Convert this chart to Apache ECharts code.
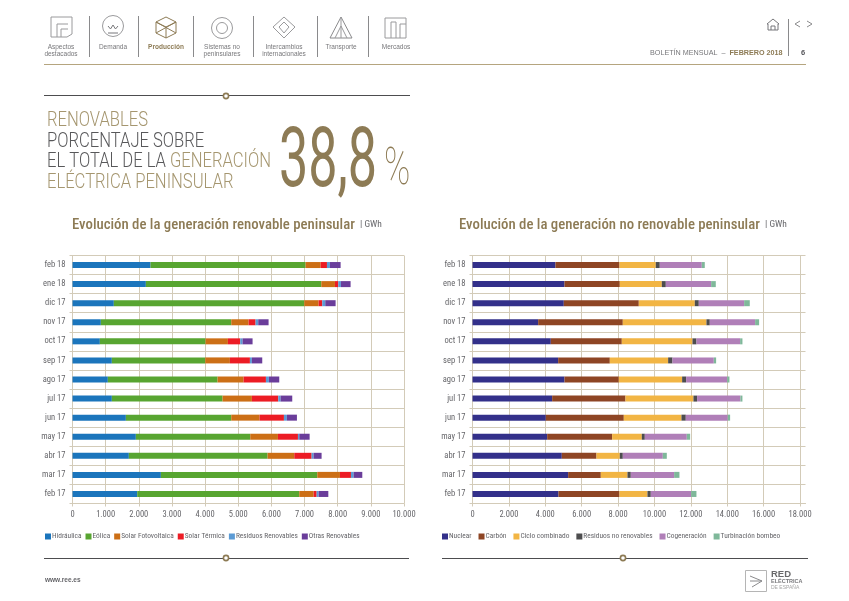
<!DOCTYPE html>
<html lang="es">
<head>
    <meta charset="UTF-8"/>
    <title>Boletin mensual</title>
    <script src="https://cdn.jsdelivr.net/npm/echarts@6/dist/echarts.min.js"></script>
    <style>
        html, body {margin: 0; padding: 0; background: #fff;}
    </style>
</head>
<body>
<div id="main" style="width: 849px;height: 601px;"></div>

<script type="text/javascript">
    var months = ['feb 18', 'ene 18', 'dic 17', 'nov 17', 'oct 17', 'sep 17', 'ago 17', 'jul 17', 'jun 17', 'may 17', 'abr 17', 'mar 17', 'feb 17'];

    // renovables, GWh
    var hidraulica = [2354, 2213, 1247, 855, 825, 1187, 1066, 1187, 1610, 1911, 1700, 2666, 1952];
    var eolica = [4678, 5292, 5744, 3934, 3189, 2817, 3310, 3340, 3179, 3451, 4185, 4718, 4889];
    var fotovoltaica = [453, 412, 433, 523, 674, 744, 785, 885, 855, 835, 805, 684, 433];
    var termica = [191, 100, 111, 211, 372, 604, 674, 795, 734, 604, 523, 332, 91];
    var residuosRen = [90, 80, 90, 80, 70, 60, 90, 70, 90, 40, 60, 80, 60];
    var otrasRen = [322, 292, 312, 312, 302, 312, 312, 352, 302, 312, 241, 262, 292];

    // no renovables, GWh
    var nuclear = [4560, 5055, 5018, 3608, 4304, 4707, 5055, 4377, 4029, 4103, 4908, 5256, 4725];
    var carbon = [3516, 3040, 4121, 4652, 3901, 2839, 2985, 4029, 4286, 3571, 1905, 1795, 3352];
    var ciclo = [1996, 2308, 3077, 4597, 3883, 3205, 3480, 3736, 3168, 1630, 1282, 1465, 1538];
    var residuosNoRen = [220, 220, 220, 183, 220, 238, 220, 201, 238, 165, 165, 183, 183];
    var cogeneracion = [2308, 2491, 2491, 2491, 2399, 2271, 2253, 2381, 2308, 2308, 2198, 2381, 2216];
    var turbinacion = [165, 256, 311, 220, 128, 128, 128, 110, 128, 183, 220, 293, 293];

    var ticksLeft = [0, 1000, 2000, 3000, 4000, 5000, 6000, 7000, 8000, 9000, 10000];
    var ticksRight = [0, 2000, 4000, 6000, 8000, 10000, 12000, 14000, 16000, 18000];

    var NARROW = '"Roboto Condensed", "Liberation Sans", sans-serif';
    var GOLD = '#8d7b55';
    var GRIDCOL = '#d3cbb8';
    var GREY = '#77777a';

    var leftSeries = [
        ['Hidráulica', hidraulica, '#1b75bc'],
        ['Eólica', eolica, '#58a531'],
        ['Solar Fotovoltaica', fotovoltaica, '#cc6f16'],
        ['Solar Térmica', termica, '#ec1c24'],
        ['Residuos Renovables', residuosRen, '#5b9bd5'],
        ['Otras Renovables', otrasRen, '#6a3d9a']
    ];
    var rightSeries = [
        ['Nuclear', nuclear, '#33308a'],
        ['Carbón', carbon, '#8e4524'],
        ['Ciclo combinado', ciclo, '#f2b544'],
        ['Residuos no renovables', residuosNoRen, '#4d4d4f'],
        ['Cogeneración', cogeneracion, '#b07fb8'],
        ['Turbinación bombeo', turbinacion, '#7fb89a']
    ];

    function fmt(v) {
        return String(v).replace(/\B(?=(\d{3})+$)/g, '.');
    }

    function makeSeries(list, idx, stack) {
        return list.map(function (s) {
            return {
                name: s[0], type: 'bar', stack: stack, barWidth: 6,
                xAxisIndex: idx, yAxisIndex: idx,
                data: s[1], itemStyle: {color: s[2]}
            };
        });
    }

    function xAxisFor(idx, max, ticks) {
        return {
            type: 'value', gridIndex: idx, min: 0, max: max, position: 'bottom',
            axisLine: {show: true, onZero: false, lineStyle: {color: GRIDCOL, width: 1}},
            axisTick: {show: true, length: 3, customValues: ticks, lineStyle: {color: GRIDCOL}},
            splitLine: {show: true, lineStyle: {color: GRIDCOL, width: 1}},
            axisLabel: {
                customValues: ticks, margin: 7, color: '#66666a', fontFamily: NARROW, fontSize: 8.5,
                formatter: fmt
            }
        };
    }

    function yAxisFor(idx) {
        return {
            type: 'category', gridIndex: idx, data: months, inverse: true,
            axisLine: {show: true, onZero: false, lineStyle: {color: GRIDCOL, width: 1}},
            axisTick: {show: true, length: 3, lineStyle: {color: GRIDCOL}},
            splitLine: {show: true, lineStyle: {color: GRIDCOL, width: 1}},
            axisLabel: {margin: 7, color: '#66666a', fontFamily: NARROW, fontSize: 8.5}
        };
    }

    function legendFor(list, x, gap) {
        return {
            left: x, top: 533, itemWidth: 6, itemHeight: 6, itemGap: gap, padding: 0,
            icon: 'rect', selectedMode: false,
            data: list.map(function (s) { return s[0]; }),
            textStyle: {color: '#66666a', fontFamily: NARROW, fontSize: 7.4, padding: [0, 0, 0, -4]}
        };
    }

    function titleFor(text, x) {
        return {
            text: '{a|' + text + '} {b|| GWh}', left: x, top: 216, padding: 0,
            textStyle: {
                fontWeight: 'normal',
                rich: {
                    a: {color: GOLD, fontFamily: NARROW, fontSize: 14.8, fontWeight: 500},
                    b: {color: '#66666a', fontFamily: NARROW, fontSize: 9.5, fontWeight: 'normal'}
                }
            }
        };
    }

    // elementos de la pagina, fuera del grafico
    var deco = [];

    function line(x1, y1, x2, y2, color, w) {
        deco.push({type: 'line', silent: true, shape: {x1: x1, y1: y1, x2: x2, y2: y2}, style: {stroke: color, lineWidth: w || 1}});
    }
    function label(x, y, text, size, color, opts) {
        opts = opts || {};
        deco.push({
            type: 'text', silent: true, x: x, y: y, scaleX: opts.scale || 1,
            style: {
                text: text, fill: color, fontFamily: opts.family || '"Liberation Sans", sans-serif',
                fontSize: size, fontWeight: opts.weight || 'normal', align: opts.align || 'left',
                verticalAlign: 'middle', lineHeight: opts.lh, rich: opts.rich
            }
        });
    }
    function ring(cx, cy, r, color, w, fill) {
        deco.push({type: 'circle', silent: true, shape: {cx: cx, cy: cy, r: r}, style: {stroke: color, lineWidth: w || 1, fill: fill || 'none'}});
    }
    function poly(points, color, closed) {
        deco.push({type: closed ? 'polygon' : 'polyline', silent: true, shape: {points: points}, style: {stroke: color, lineWidth: 1, fill: 'none'}});
    }

    var navItems = [
        [61, ['Aspectos', 'destacados']], [113, ['Demanda']], [166, ['Producción']],
        [222, ['Sistemas no', 'peninsulares']], [284, ['Intercambios', 'internacionales']],
        [341, ['Transporte']], [396, ['Mercados']]
    ];
    navItems.forEach(function (n) {
        var active = n[1][0] === 'Producción';
        n[1].forEach(function (t, i) {
            label(n[0], 47 + i * 7.5, t, 6.5, active ? GOLD : '#77777a', {align: 'center', weight: active ? 'bold' : 'normal'});
        });
    });
    [89.5, 138.5, 193.5, 253.5, 317.5, 368.5].forEach(function (x) {
        line(x, 16, x, 57, '#8a8a8c', 1);
    });

    // iconos del menu
    poly([[51, 17], [72, 17], [72, 34], [67, 37], [51, 37]], '#9a9a9c', true);
    poly([[57, 37], [57, 24], [68, 24]], '#9a9a9c');
    poly([[61, 37], [61, 29], [68, 29]], '#9a9a9c');
    ring(113, 26, 10.5, '#9a9a9c');
    poly([[108, 26], [110.5, 29], [113, 25], [115.5, 29], [118, 26]], '#77777a');
    line(108, 33, 118, 33, '#77777a', 1);
    poly([[166, 17], [176, 22], [176, 33], [166, 38], [156, 33], [156, 22]], GOLD, true);
    poly([[156, 22], [166, 27], [176, 22]], GOLD);
    poly([[156, 33], [176, 22]], GOLD);
    poly([[156, 22], [176, 33]], GOLD);
    line(166, 27, 166, 38, GOLD, 1);
    ring(222, 28, 10.5, '#9a9a9c');
    ring(222, 28, 5.5, '#9a9a9c');
    poly([[284, 17], [295, 27], [284, 38], [273, 27]], '#9a9a9c', true);
    poly([[284, 22], [289, 27], [284, 33], [279, 27]], '#9a9a9c', true);
    poly([[341, 17], [352, 38], [330, 38]], '#8a8a8c', true);
    poly([[341, 17], [341, 38]], '#9a9a9c');
    poly([[335, 38], [341, 26], [347, 38]], '#9a9a9c');
    poly([[385, 18], [406, 18], [406, 38], [385, 38]], '#9a9a9c', true);
    poly([[391, 38], [391, 22], [396, 22], [396, 38]], '#9a9a9c');
    poly([[400, 38], [400, 24], [406, 24]], '#9a9a9c');

    // cabecera derecha
    poly([[767, 24], [773, 19], [779, 24], [778, 24], [778, 30], [768, 30], [768, 24]], '#77777a', true);
    poly([[771, 30], [771, 26], [775, 26], [775, 30]], '#77777a');
    line(788.5, 19, 788.5, 56, '#8a8a8c', 1);
    poly([[800, 21], [795, 24], [800, 27]], '#8a8a8c');
    poly([[807, 21], [812, 24], [807, 27]], '#8a8a8c');
    label(650, 53, '{a|BOLETÍN MENSUAL  –  }{b|FEBRERO 2018}', 7.2, GREY, {
        rich: {
            a: {fontSize: 7.2, fill: GREY, fontFamily: '"Liberation Sans", sans-serif'},
            b: {fontSize: 7.2, fill: GOLD, fontWeight: 'bold', fontFamily: '"Liberation Sans", sans-serif'}
        }
    });
    label(801, 53, '6', 7.5, '#55555a', {weight: 'bold'});

    // reglas
    line(44, 64.5, 806, 64.5, '#b5a57f', 1);
    line(44, 95.5, 410, 95.5, '#4d4d4f', 1);
    ring(226, 96, 2.6, GOLD, 1.6, '#fff');
    line(44, 558.5, 409, 558.5, '#4d4d4f', 1);
    ring(226, 558, 2.6, GOLD, 1.6, '#fff');
    line(442, 558.5, 808, 558.5, '#4d4d4f', 1);
    ring(623, 558, 2.6, GOLD, 1.6, '#fff');

    // cifra destacada
    var headFamily = 'Roboto, sans-serif';
    function headLine(y, rich) {
        label(47, y, rich, 21, GOLD, {
            family: headFamily, weight: 300, scale: 0.79,
            rich: {
                g: {fontSize: 21, fontWeight: 300, fontFamily: headFamily, fill: '#a5966f'},
                d: {fontSize: 21, fontWeight: 300, fontFamily: headFamily, fill: '#58585a'}
            }
        });
    }
    headLine(121, '{g|RENOVABLES}');
    headLine(142, '{d|PORCENTAJE SOBRE}');
    headLine(162, '{d|EL TOTAL DE LA }{g|GENERACIÓN}');
    headLine(183, '{g|ELÉCTRICA PENINSULAR}');
    label(279, 165, '38,8', 84, GOLD, {family: headFamily, weight: 400, scale: 0.62});
    label(384, 171, '%', 52, GOLD, {family: headFamily, weight: 100, scale: 0.68});

    // pie
    label(45, 580, 'www.ree.es', 6.5, '#66666a', {weight: 'bold'});
    poly([[745.5, 570.5], [766.5, 570.5], [766.5, 591.5], [745.5, 591.5]], '#b5b5b5', true);
    poly([[750, 576], [762, 581], [752, 587]], '#8a8a8c');
    poly([[750, 581], [762, 581]], '#8a8a8c');
    label(771, 574, 'RED', 9.5, '#6a6a6c', {weight: 'bold'});
    label(771, 581.5, 'ELÉCTRICA', 5.5, '#77777a', {weight: 'bold'});
    label(771, 588, 'DE ESPAÑA', 5, '#a5a5a5');

    var myChart = echarts.init(document.getElementById('main'));

    var option = {
        animation: false,
        title: [
            titleFor('Evolución de la generación renovable peninsular', 72),
            titleFor('Evolución de la generación no renovable peninsular', 459)
        ],
        legend: [legendFor(leftSeries, 45, 4), legendFor(rightSeries, 442, 7)],
        grid: [
            {left: 72.5, top: 255.5, width: 331.5, height: 248},
            {left: 472.5, top: 255.5, width: 333, height: 248}
        ],
        xAxis: [xAxisFor(0, 10000, ticksLeft), xAxisFor(1, 18300, ticksRight)],
        yAxis: [yAxisFor(0), yAxisFor(1)],
        series: makeSeries(leftSeries, 0, 'ren').concat(makeSeries(rightSeries, 1, 'noren')),
        graphic: deco
    };

    myChart.setOption(option);
</script>
</body>
</html>
